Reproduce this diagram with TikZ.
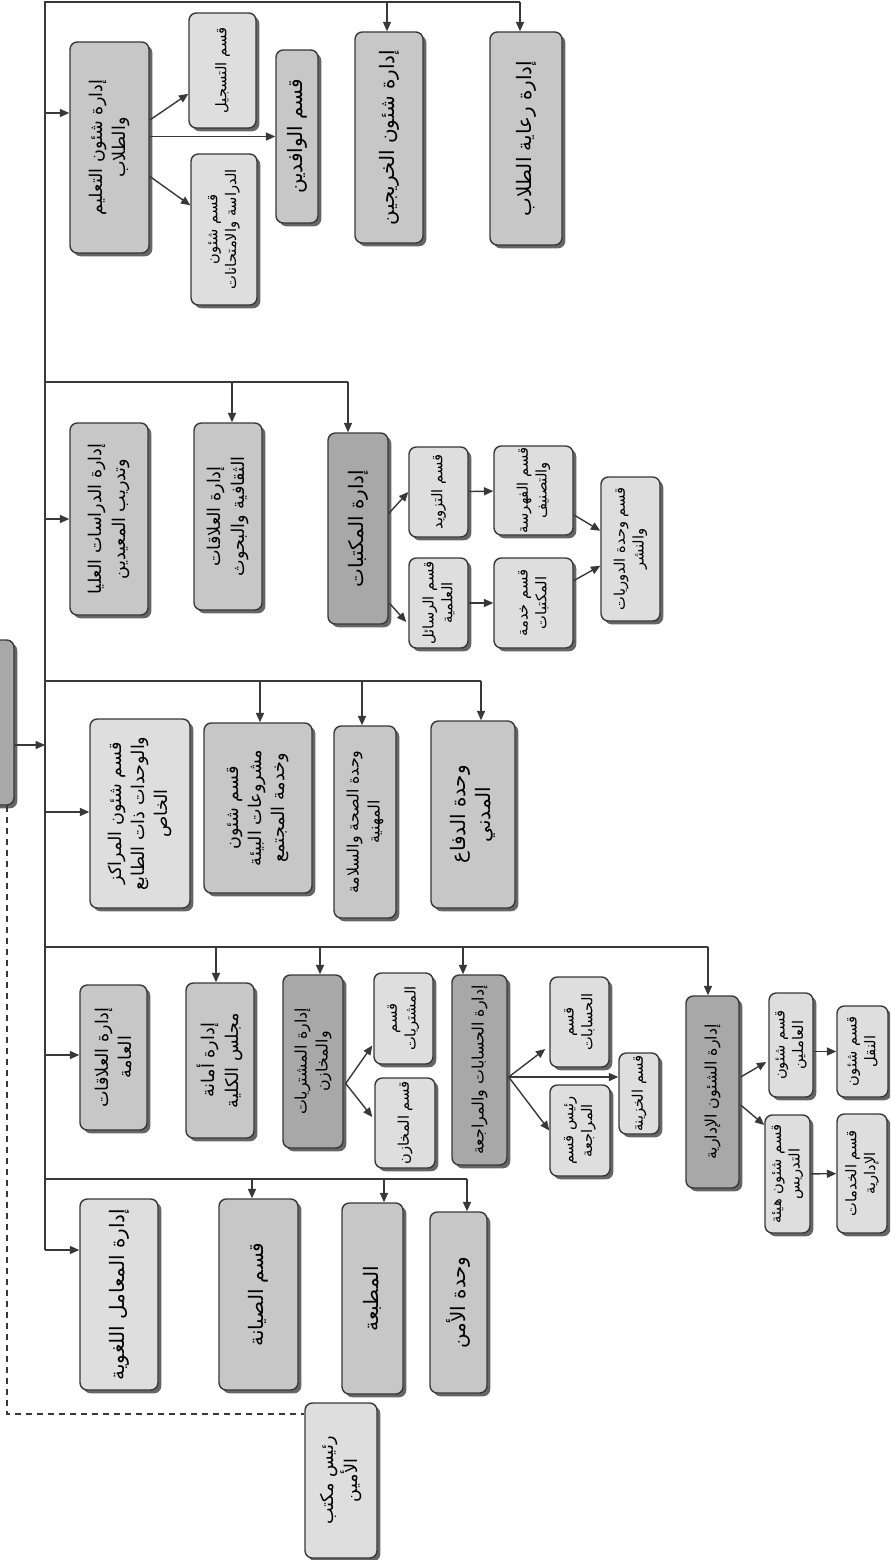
\documentclass[tikz,border=0pt]{standalone}
\usepackage{fontspec}
\usetikzlibrary{arrows.meta,calc,shadows}
\newfontfamily\arabicfont[Script=Arabic]{DejaVu Sans}
\TeXXeTstate=1
\newcommand\artext[1]{\beginR#1\endR}
\definecolor{lightfill}{gray}{0.87}
\definecolor{midfill}{gray}{0.78}
\definecolor{darkfill}{gray}{0.66}
\definecolor{inkgray}{gray}{0.22}
\tikzset{
  unit/.style={
    rotate=90,
    draw=inkgray,
    line width=1.2pt,
    rounded corners=2.2mm,
    inner sep=1pt,
    align=center,
    drop shadow={shadow xshift=1mm,shadow yshift=-1mm,fill=black,opacity=0.6},
    font=\arabicfont\fontsize{15}{20}\selectfont
  },
  lightunit/.style={unit,fill=lightfill},
  midunit/.style={unit,fill=midfill},
  darkunit/.style={unit,fill=darkfill},
  bigtext/.style={font=\arabicfont\fontsize{17}{21}\selectfont},
  medtext/.style={font=\arabicfont\fontsize{13.5}{18}\selectfont},
  smalltext/.style={font=\arabicfont\fontsize{12.5}{16}\selectfont},
  boxsize/.style 2 args={minimum width=#1*0.3mm,minimum height=#2*0.3mm},
  link/.style={draw=inkgray,line width=1.2pt,-{Triangle[length=2.8mm,width=2.4mm]}},
  bus/.style={draw=inkgray,line width=1.2pt}
}

\begin{document}
\begin{tikzpicture}[x=0.3mm,y=-0.3mm]
  \useasboundingbox (0,0) rectangle (890,1560);
  \clip (0,0) rectangle (890,1560);

  % head of the chart, cut by the page edge
  \node[darkunit,boxsize={165}{54}] (root) at (-13,722.5) {};

  % first group
  \node[midunit,boxsize={211}{79}] (edu) at (109.5,147.5) {\artext{إدارة شئون التعليم}\\\artext{والطلاب}};
  \node[lightunit,smalltext,boxsize={115}{67}] (reg) at (222.5,70.5) {\artext{قسم التسجيل}};
  \node[midunit,bigtext,boxsize={173}{42}] (wafd) at (297,136.5) {\artext{قسم الوافدين}};
  \node[lightunit,smalltext,boxsize={151}{66}] (exam) at (224,229.5) {\artext{قسم شئون}\\\artext{الدراسة والامتحانات}};
  \node[midunit,bigtext,boxsize={211}{68}] (grads) at (389,137.5) {\artext{إدارة شئون الخريجين}};
  \node[midunit,bigtext,boxsize={213}{72}] (care) at (526,138.5) {\artext{إدارة رعاية الطلاب}};

  % second group
  \node[midunit,boxsize={192}{78}] (pgs) at (109,519) {\artext{إدارة الدراسات العليا}\\\artext{وتدريب المعيدين}};
  \node[midunit,boxsize={187}{68}] (cult) at (228,516.5) {\artext{إدارة العلاقات}\\\artext{الثقافية والبحوث}};
  \node[darkunit,bigtext,boxsize={191}{60}] (lib) at (358,528.5) {\artext{إدارة المكتبات}};
  \node[lightunit,smalltext,boxsize={90}{59}] (tazw) at (438.5,492) {\artext{قسم التزويد}};
  \node[lightunit,smalltext,boxsize={90}{59}] (risl) at (438.5,603) {\artext{قسم الرسائل}\\\artext{العلمية}};
  \node[lightunit,smalltext,boxsize={89}{79}] (fahr) at (533.5,490.5) {\artext{قسم الفهرسة}\\\artext{والتصنيف}};
  \node[lightunit,smalltext,boxsize={90}{79}] (khid) at (533.5,603) {\artext{قسم خدمة}\\\artext{المكتبات}};
  \node[lightunit,smalltext,boxsize={144}{59}] (dawr) at (630.5,549) {\artext{قسم وحدة الدوريات}\\\artext{والنشر}};

  % third group
  \node[lightunit,boxsize={189}{100}] (cent) at (140,813.5) {\artext{قسم شئون المراكز}\\\artext{والوحدات ذات الطابع}\\\artext{الخاص}};
  \node[midunit,boxsize={170}{108}] (env) at (258,808) {\artext{قسم شئون}\\\artext{مشروعات البيئة}\\\artext{وخدمة المجتمع}};
  \node[midunit,medtext,boxsize={192}{62}] (hlth) at (365,822) {\artext{وحدة الصحة والسلامة}\\\artext{المهنية}};
  \node[midunit,bigtext,boxsize={187}{84}] (civ) at (473,814.5) {\artext{وحدة الدفاع}\\\artext{المدني}};

  % fourth group
  \node[midunit,boxsize={145}{67}] (pr) at (113.5,1057.5) {\artext{إدارة العلاقات}\\\artext{العامة}};
  \node[midunit,boxsize={155}{68}] (sec) at (220,1060.5) {\artext{إدارة أمانة}\\\artext{مجلس الكلية}};
  \node[darkunit,medtext,boxsize={173}{60}] (pur) at (313,1061.5) {\artext{إدارة المشتريات}\\\artext{والمخازن}};
  \node[lightunit,smalltext,boxsize={91}{59}] (qpur) at (403.5,1018.5) {\artext{قسم}\\\artext{المشتريات}};
  \node[lightunit,smalltext,boxsize={90}{60}] (qsto) at (405,1123) {\artext{قسم المخازن}};
  \node[darkunit,medtext,boxsize={190}{55}] (acc) at (479.5,1070) {\artext{إدارة الحسابات والمراجعة}};
  \node[lightunit,smalltext,boxsize={90}{59}] (qacc) at (579.5,1022) {\artext{قسم}\\\artext{الحسابات}};
  \node[lightunit,smalltext,boxsize={91}{60}] (audit) at (580,1130.5) {\artext{رئيس قسم}\\\artext{المراجعة}};
  \node[lightunit,smalltext,boxsize={81}{40}] (treas) at (639,1093.5) {\artext{قسم الخزينة}};
  \node[darkunit,medtext,boxsize={192}{53}] (adm) at (712.5,1092) {\artext{إدارة الشئون الإدارية}};
  \node[lightunit,smalltext,boxsize={104}{44}] (staff) at (791,1045) {\artext{قسم شئون}\\\artext{العاملين}};
  \node[lightunit,smalltext,boxsize={118}{45}] (fac) at (787.5,1174) {\artext{قسم شئون هيئة}\\\artext{التدريس}};
  \node[lightunit,smalltext,boxsize={91}{51}] (trans) at (862.5,1051.5) {\artext{قسم شئون}\\\artext{النقل}};
  \node[lightunit,smalltext,boxsize={119}{50}] (serv) at (862,1173.5) {\artext{قسم الخدمات}\\\artext{الإدارية}};

  % fifth group
  \node[lightunit,bigtext,boxsize={191}{78}] (labs) at (119,1294.5) {\artext{إدارة المعامل اللغوية}};
  \node[midunit,bigtext,boxsize={191}{79}] (maint) at (258.5,1294.5) {\artext{قسم الصيانة}};
  \node[midunit,bigtext,boxsize={191}{61}] (press) at (372.5,1298.5) {\artext{المطبعة}};
  \node[midunit,bigtext,boxsize={181}{57}] (secu) at (458.5,1302.5) {\artext{وحدة الأمن}};

  \node[lightunit,boxsize={155}{72}] (chief) at (341,1480.5) {\artext{رئيس مكتب}\\\artext{الأمين}};

  % trunk and buses
  \coordinate (tTop) at (45,2);
  \coordinate (tEnd) at (45,1250);
  \foreach \x/\n in {387/grads,520/care}{
    \coordinate (b\n) at (\x,2);
    \draw[link] (b\n) -- (b\n |- \n.east);
  }
  \draw[bus] (bcare) -- (tTop) -- (tEnd);
  \draw[link] (tEnd) -- (tEnd -| labs.north);
  \coordinate (sroot) at (45,745);
  \draw[link] (sroot -| root.south) -- (sroot);
  \foreach \y/\n in {113/edu,519/pgs,812/cent,1055/pr}{
    \coordinate (s\n) at (45,\y);
    \draw[link] (s\n) -- (s\n -| \n.north);
  }
  \foreach \y/\last/\list in {382/lib/{232/cult,348/lib},681/civ/{260/env,362/hlth,481/civ},947/adm/{216/sec,320/pur,463/acc,708/adm},1179/secu/{252/maint,384/press,467/secu}}{
    \coordinate (t\last) at (45,\y);
    \foreach \x/\n in \list{
      \coordinate (b\n) at (\x,\y);
      \draw[link] (b\n) -- (b\n |- \n.east);
    }
    \draw[bus] (t\last) -- (b\last);
  }

  % inner links
  \draw[link] (edu) -- (reg);
  \draw[link] (edu.south |- wafd.north) -- (wafd.north);
  \draw[link] (edu) -- (exam);
  \draw[link] ($(lib.south)+(0,-15)$) -- (tazw.north);
  \draw[link] ($(lib.south)+(1,75)$) -- ($(risl.north)+(-2,19)$);
  \draw[link] (tazw) -- (fahr);
  \draw[link] (risl) -- (khid);
  \draw[link] (fahr) -- (dawr);
  \draw[link] (khid) -- (dawr);
  \coordinate (purFork) at ($(pur.south)+(2,22)$);
  \draw[link] (purFork) -- ($(qpur.north)+(-1,27)$);
  \draw[link] (purFork) -- ($(qsto.north)+(-2,-6)$);
  \coordinate (accFork) at ($(acc.south)+(1,7)$);
  \draw[link] (accFork) -- ($(qacc.north)+(-4,27)$);
  \draw[link] (accFork) -- (accFork -| treas.north);
  \draw[link] (accFork) -- (audit.north);
  \draw[link] ($(adm.south)+(1,-15)$) -- ($(staff.north)+(-2,17)$);
  \draw[link] ($(adm.south)+(1,13)$) -- ($(fac.north)+(0,-49)$);
  \draw[link] (staff.south |- trans.north) -- (trans.north);
  \draw[link] (fac) -- (serv);

  % dashed tie to the office head
  \coordinate (dCorner) at (7,1414);
  \draw[draw=inkgray,line width=1pt,dash pattern=on 2mm off 1.3mm] (dCorner |- root.west) -- (dCorner) -- (dCorner -| chief.north);
\end{tikzpicture}
\end{document}
